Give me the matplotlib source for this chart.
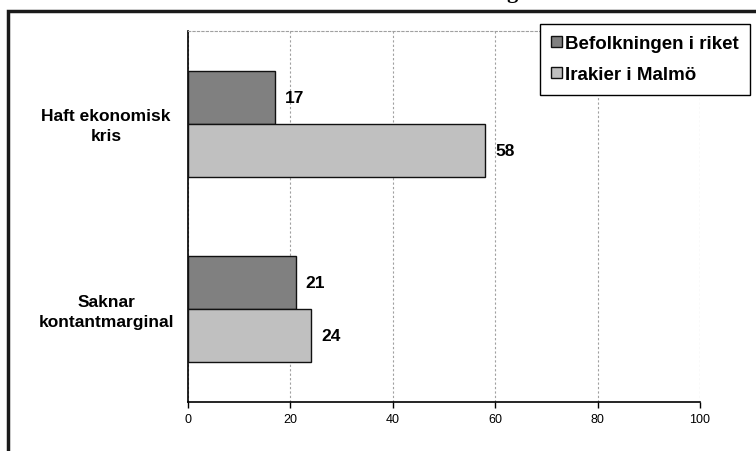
import matplotlib.pyplot as plt
from matplotlib.patches import Rectangle

categories = ["Haft ekonomisk\nkris", "Saknar\nkontantmarginal"]
series_names = ["Befolkningen i riket", "Irakier i Malmö"]
riket = [17, 21]
malmo = [58, 24]
xticks = [0, 20, 40, 60, 80, 100]

plt.rcParams['font.family'] = ['Liberation Sans', 'DejaVu Sans']

fig = plt.figure(figsize=(7.56, 4.52), dpi=100)
W, H = 756, 452

# outer frame (cut off on the right and bottom)
fig.patches.append(Rectangle((8 / W, -0.1), 1.2, 1 - 12 / H + 0.1,
                             transform=fig.transFigure, fill=False,
                             edgecolor='#1a1a1a', linewidth=2.5, zorder=0))
# clipped title remnant
fig.text(512 / W, 1 + 1.5 / H, "g", ha='center', va='baseline',
         family='Liberation Serif', fontsize=16, fontweight='bold')

ax = fig.add_axes([188 / W, 1 - 403 / H, 512 / W, 371 / H])

h = 0.285
ys = [0, 1]
ax.barh([y - h / 2 for y in ys], riket, height=h, color='#808080',
        edgecolor='#111111', linewidth=1.0, label=series_names[0], zorder=3)
ax.barh([y + h / 2 for y in ys], malmo, height=h, color='#c0c0c0',
        edgecolor='#111111', linewidth=1.0, label=series_names[1], zorder=3)

for y, v in zip(ys, riket):
    ax.text(v + 2, y - h / 2, str(v), va='center', ha='left',
            fontsize=12.5, fontweight='bold')
for y, v in zip(ys, malmo):
    ax.text(v + 2, y + h / 2, str(v), va='center', ha='left',
            fontsize=12.5, fontweight='bold')

ax.set_ylim(1.5, -0.5)
ax.set_xlim(0, 100)
ax.set_yticks([y - 0.01 for y in ys])
ax.set_yticklabels(categories, fontsize=12.5, fontweight='bold',
                   ha='center', multialignment='center', linespacing=1.4)
ax.tick_params(axis='y', length=0, pad=59)
ax.set_xticks(xticks)
ax.set_xticklabels([str(t) for t in xticks], fontsize=9)
ax.tick_params(axis='x', direction='out', length=4, width=1, pad=4)

ax.grid(axis='x', color='#a0a0a0', linestyle=(0, (2, 2)), linewidth=0.8,
        zorder=0)
ax.spines['top'].set_color('#a0a0a0')
ax.spines['top'].set_linestyle((0, (2, 2)))
ax.spines['top'].set_linewidth(0.8)
ax.spines['right'].set_visible(False)
ax.spines['left'].set_linewidth(1.2)
ax.spines['bottom'].set_linewidth(1.2)

fig.legend(loc='upper left', bbox_to_anchor=(540 / W, 1 - 25 / H),
           prop={'weight': 'bold', 'size': 13.5},
           frameon=True, fancybox=False, edgecolor='black', framealpha=1,
           handlelength=0.55, handleheight=0.55, handletextpad=0.2,
           labelspacing=0.75, borderpad=0.6, borderaxespad=0)

fig.savefig("out.png", dpi=100)
